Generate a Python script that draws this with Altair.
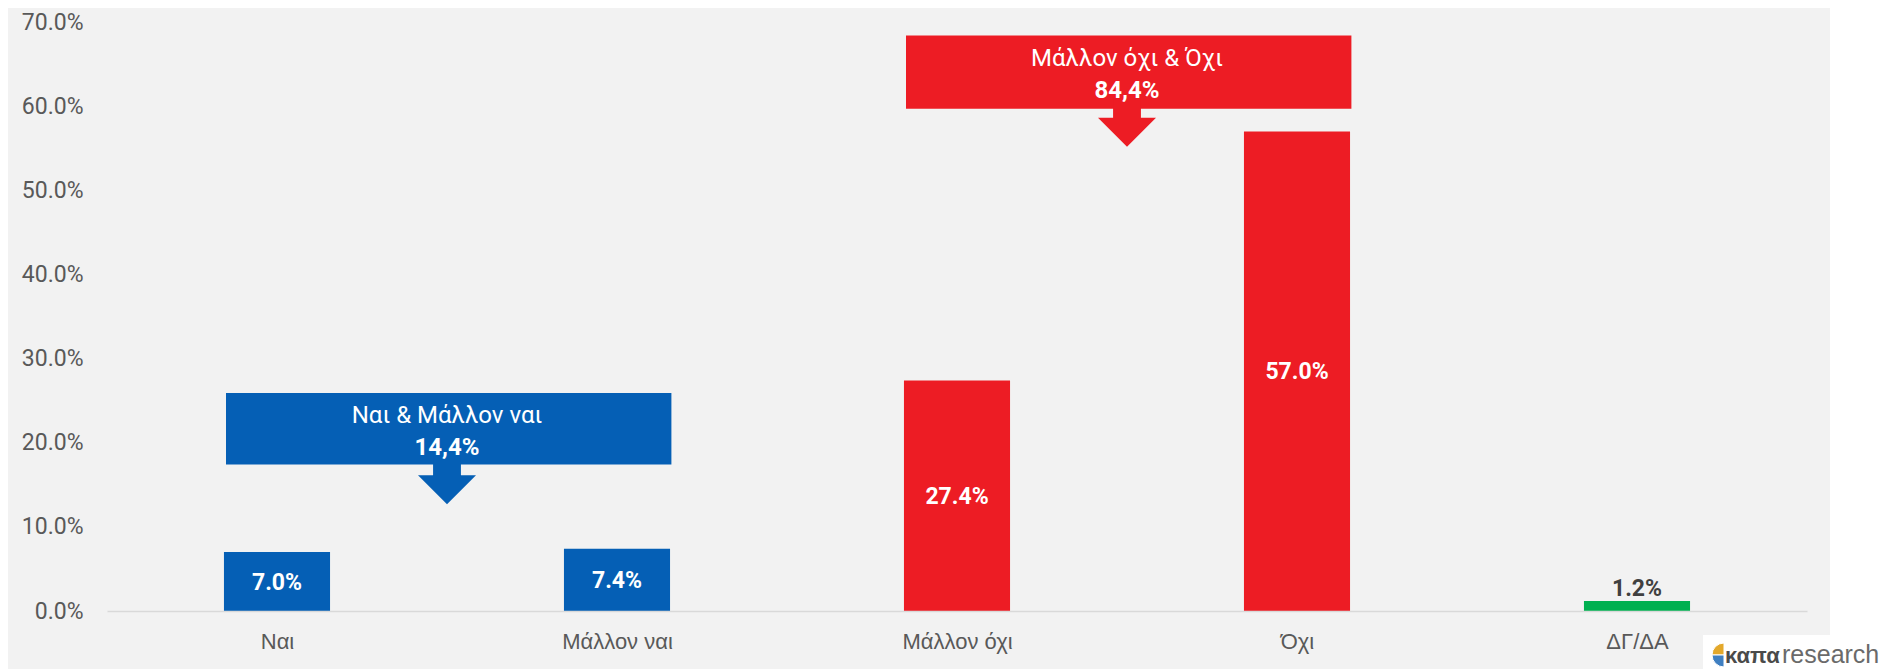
import json
import math
import altair as alt
import pandas as pd

# ---------------- data ----------------
categories = ["Ναι", "Μάλλον ναι", "Μάλλον όχι", "Όχι", "ΔΓ/ΔΑ"]
values = [7.0, 7.4, 27.4, 57.0, 1.2]
groups = ["yes", "yes", "no", "no", "dk"]

callout_titles = ["Ναι & Μάλλον ναι", "Μάλλον όχι & Όχι"]
callout_totals = ["14,4%", "84,4%"]
callout_first = [0, 2]
callout_last = [1, 3]
callout_group = ["yes", "no"]

y_ticks = [0, 10, 20, 30, 40, 50, 60, 70]

# ---------------- layout / style ----------------
callout_box_top = [25.9, 68.4]
callout_box_bottom = [17.4, 59.7]
callout_arrow_mid = [14.4, 56.9]

COLORS = {"yes": "#055FB5", "no": "#ED1C24", "dk": "#00B050"}
BG = "#F2F2F2"
AXIS_TXT = "#595959"
NARROW = "Roboto, 'Liberation Sans', sans-serif"
REG = "'Liberation Sans', Arial, sans-serif"
W, H = 1700, 589
PAD = {"left": 99, "top": 14, "right": 81, "bottom": 58}
HALF_BAR = 0.156

bars_df = pd.DataFrame({
    "idx": list(range(len(categories))),
    "cat": categories,
    "value": values,
    "group": groups,
})

call_df = pd.DataFrame({
    "first": callout_first,
    "last": callout_last,
    "group": callout_group,
    "title": callout_titles,
    "total": callout_totals,
    "top": callout_box_top,
    "bottom": callout_box_bottom,
    "arrow": callout_arrow_mid,
})

color_scale = alt.Scale(domain=list(COLORS.keys()), range=list(COLORS.values()))
x_scale = alt.Scale(domain=[-0.5, len(categories) - 0.5], nice=False, zero=False)
y_scale = alt.Scale(domain=[0, 70], nice=False)

label_expr = json.dumps(categories, ensure_ascii=False) + "[datum.value]"

x_axis = alt.Axis(
    values=list(range(len(categories))), labelExpr=label_expr, title=None,
    grid=False, ticks=False, domain=True, domainColor="#D9D9D9", domainWidth=1.5,
    labelFont=REG, labelFontSize=22, labelColor=AXIS_TXT, labelPadding=20,
    labelFlush=False, labelOverlap=False, zindex=1,
)
y_axis = alt.Axis(
    values=y_ticks, labelExpr="format(datum.value, '.1f') + '%'", title=None,
    grid=False, ticks=False, domain=False,
    labelFont=NARROW, labelFontSize=23, labelColor=AXIS_TXT, labelPadding=24,
    labelOverlap=False, zindex=1,
)

one = pd.DataFrame({"k": [0]})

# background panel (light gray) and logo box (white)
panel = alt.Chart(one).mark_rect(color=BG).encode(
    x=alt.value(-PAD["left"]), x2=alt.value(1723),
    y=alt.value(-PAD["top"]), y2=alt.value(H + PAD["bottom"]),
)
logo_box = alt.Chart(one).mark_rect(color="white").encode(
    x=alt.value(1596), x2=alt.value(W + PAD["right"]),
    y=alt.value(613), y2=alt.value(H + PAD["bottom"]),
)
logo_a = alt.Chart(one).mark_arc(radius=12, theta=1.5 * math.pi, theta2=2 * math.pi,
                                 color="#E3A82B", stroke="white", strokeWidth=1).encode(
    x=alt.value(1617), y=alt.value(633))
logo_b = alt.Chart(one).mark_arc(radius=12, theta=math.pi, theta2=1.5 * math.pi,
                                 color="#3F7FC1", stroke="white", strokeWidth=1).encode(
    x=alt.value(1617), y=alt.value(633))
logo_t1 = alt.Chart(one).mark_text(text="καπα", font=REG, fontWeight="bold", fontSize=22,
                                   color="#4A4A4A", align="left", baseline="alphabetic").encode(
    x=alt.value(1618), y=alt.value(641))
logo_t2 = alt.Chart(one).mark_text(text="research", font=REG, fontSize=25,
                                   color="#6A6A6A", align="left", baseline="alphabetic").encode(
    x=alt.value(1675), y=alt.value(641))

base = alt.Chart(bars_df).transform_calculate(
    x0=f"datum.idx - {HALF_BAR}", x1=f"datum.idx + {HALF_BAR}", mid="datum.value / 2",
    lbl="format(datum.value, '.1f') + '%'",
)

bars = base.mark_rect().encode(
    x=alt.X("x0:Q", scale=x_scale, axis=x_axis),
    x2="x1:Q",
    y=alt.Y("value:Q", scale=y_scale, axis=y_axis),
    y2=alt.datum(0),
    color=alt.Color("group:N", scale=color_scale, legend=None),
)

inside = base.transform_filter("datum.value >= 5").mark_text(
    font=NARROW, fontSize=23, fontWeight="bold", color="white", baseline="middle", dy=1,
).encode(x=alt.X("idx:Q", scale=x_scale), y=alt.Y("mid:Q", scale=y_scale), text="lbl:N")

above = base.transform_filter("datum.value < 5").mark_text(
    font=NARROW, fontSize=23, fontWeight="bold", color="#404040", baseline="alphabetic", dy=-5,
).encode(x=alt.X("idx:Q", scale=x_scale), y=alt.Y("value:Q", scale=y_scale), text="lbl:N")

cbase = alt.Chart(call_df).transform_calculate(
    bx0="datum.first - 0.15", bx1="datum.last + 0.16",
    xm="(datum.first + datum.last) / 2", ym="(datum.top + datum.bottom) / 2",
)

boxes = cbase.mark_rect().encode(
    x=alt.X("bx0:Q", scale=x_scale), x2="bx1:Q",
    y=alt.Y("top:Q", scale=y_scale), y2="bottom:Q",
    color=alt.Color("group:N", scale=color_scale, legend=None),
)
arrow_path = "M-0.48,-1.2L0.48,-1.2L0.48,-0.5L1,-0.5L0,0.5L-1,-0.5L-0.48,-0.5Z"
arrows = cbase.mark_point(shape=arrow_path, size=58 * 58, filled=True, opacity=1,
                          strokeWidth=0).encode(
    x=alt.X("xm:Q", scale=x_scale), y=alt.Y("arrow:Q", scale=y_scale),
    color=alt.Color("group:N", scale=color_scale, legend=None),
)
titles = cbase.mark_text(font=NARROW, fontSize=24, color="white", baseline="middle", dy=-13).encode(
    x=alt.X("xm:Q", scale=x_scale), y=alt.Y("ym:Q", scale=y_scale), text="title:N")
totals = cbase.mark_text(font=NARROW, fontSize=24, fontWeight="bold", color="white",
                         baseline="middle", dy=19).encode(
    x=alt.X("xm:Q", scale=x_scale), y=alt.Y("ym:Q", scale=y_scale), text="total:N")

chart = alt.layer(
    panel, logo_box, bars, inside, above, boxes, arrows, titles, totals,
    logo_a, logo_b, logo_t1, logo_t2,
).properties(
    width=W, height=H, padding=PAD, autosize=alt.AutoSizeParams(type="none"),
    background="white",
).configure_view(stroke=None)

chart.save("out.html", embed_options={"renderer": "svg", "actions": False})
